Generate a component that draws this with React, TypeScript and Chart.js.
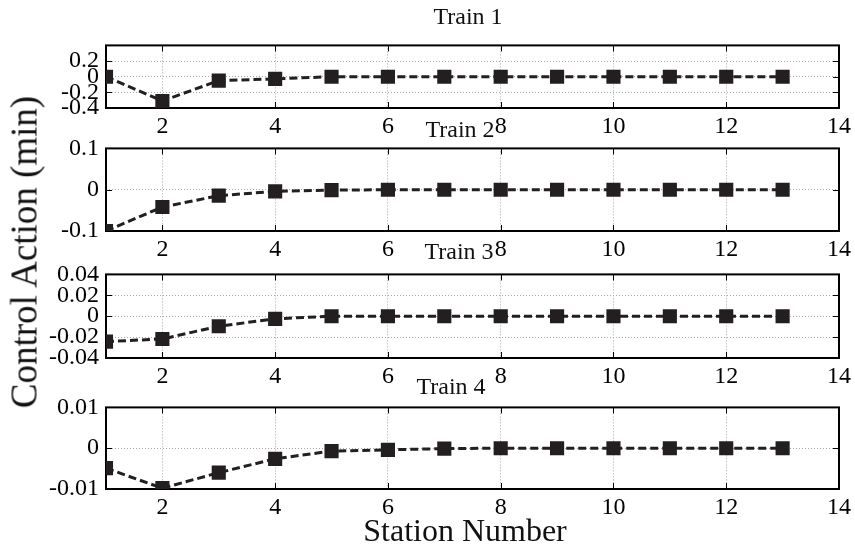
import React, { useEffect, useRef } from "react";
import { Chart, registerables } from "chart.js";

Chart.register(...registerables);

// ---------- data ----------
const stations = [1, 2, 3, 4, 5, 6, 7, 8, 9, 10, 11, 12, 13];
const train1 = [0, -0.31, -0.05, -0.028, 0, 0, 0, 0, 0, 0, 0, 0, 0];
const train2 = [-0.1, -0.042, -0.0145, -0.004, -0.0012, 0, 0, 0, 0, 0, 0, 0, 0];
const train3 = [-0.0243, -0.0218, -0.0096, -0.0025, 0, 0, 0, 0, 0, 0, 0, 0, 0];
const train4 = [-0.0049, -0.0098, -0.006, -0.0026, -0.0007, -0.0004, -0.0001, 0, 0, 0, 0, 0, 0];
const xTicks = [2, 4, 6, 8, 10, 12, 14];
const yTicks1 = [-0.4, -0.2, 0, 0.2, 0.4];
const yLabels1 = ["-0.4", "-0.2", "0", "0.2", ""];
const yTicks2 = [-0.1, 0, 0.1];
const yLabels2 = ["-0.1", "0", "0.1"];
const yTicks3 = [-0.04, -0.02, 0, 0.02, 0.04];
const yLabels3 = ["-0.04", "-0.02", "0", "0.02", "0.04"];
const yTicks4 = [-0.01, 0, 0.01];
const yLabels4 = ["-0.01", "0", "0.01"];
const titles = ["Train 1", "Train 2", "Train 3", "Train 4"];
const xAxisTitle = "Station Number";
const yAxisTitle = "Control Action (min)";

const FONT = "'Liberation Serif', 'Times New Roman', serif";
const INK = "#231f20";
const GRID = "#a8a8a8";
const W = 855;
const PLOT_LEFT = 106;
const PLOT_RIGHT = 839;

const boxPlugin = {
  id: "matlabBox",
  beforeDatasetsDraw(chart: any) {
    const { ctx, chartArea, scales } = chart;
    const { left, right, top, bottom } = chartArea;
    const x = scales.x;
    const y = scales.y;
    ctx.save();
    ctx.setLineDash([]);
    ctx.strokeStyle = "#000";
    ctx.lineWidth = 1;
    ctx.beginPath();
    x.ticks.forEach((t: any) => {
      const px = Math.round(x.getPixelForValue(t.value)) + 0.5;
      ctx.moveTo(px, top);
      ctx.lineTo(px, top + 6);
      ctx.moveTo(px, bottom);
      ctx.lineTo(px, bottom - 6);
    });
    y.ticks.forEach((t: any) => {
      const py = Math.round(y.getPixelForValue(t.value)) + 0.5;
      ctx.moveTo(left, py);
      ctx.lineTo(left + 6, py);
      ctx.moveTo(right, py);
      ctx.lineTo(right - 6, py);
    });
    ctx.stroke();
    ctx.lineWidth = 2;
    ctx.strokeRect(left, top, right - left, bottom - top);
    ctx.restore();
  },
};

type PanelProps = {
  values: number[];
  yTicks: number[];
  yLabels: string[];
  top: number;
  bottom: number;
};

function Panel({ values, yTicks, yLabels, top, bottom }: PanelProps) {
  const ref = useRef<HTMLCanvasElement>(null);
  const padTop = 20;
  const axisH = 40;
  const H = bottom - top + padTop + axisH;

  useEffect(() => {
    const chart = new Chart(ref.current as HTMLCanvasElement, {
      type: "line",
      data: {
        datasets: [
          {
            data: stations.map((s, i) => ({ x: s, y: values[i] })),
            borderColor: INK,
            backgroundColor: INK,
            borderWidth: 3,
            borderDash: [8, 4],
            pointStyle: "rect",
            pointRadius: 10,
            pointBorderWidth: 0,
            pointBackgroundColor: INK,
            tension: 0,
          } as any,
        ],
      },
      options: {
        animation: false,
        responsive: false,
        devicePixelRatio: 1,
        layout: { padding: { left: 0, right: W - PLOT_RIGHT, top: padTop, bottom: 0 } },
        plugins: { legend: { display: false }, tooltip: { enabled: false } },
        scales: {
          x: {
            type: "linear",
            min: 1,
            max: 14,
            afterBuildTicks: (ax: any) => {
              ax.ticks = xTicks.map((v) => ({ value: v }));
            },
            afterFit: (ax: any) => {
              ax.height = axisH;
            },
            grid: { color: GRID, lineWidth: 1, drawTicks: false, tickLength: 0 },
            border: { display: false, dash: [1, 2] },
            ticks: {
              color: "#000",
              font: { family: FONT, size: 24 },
              padding: 4,
              maxRotation: 0,
              autoSkip: false,
              callback: (v: any) => String(v),
            },
          },
          y: {
            type: "linear",
            min: yTicks[0],
            max: yTicks[yTicks.length - 1],
            afterBuildTicks: (ax: any) => {
              ax.ticks = yTicks.map((v) => ({ value: v }));
            },
            afterFit: (ax: any) => {
              ax.width = PLOT_LEFT;
            },
            grid: { color: GRID, lineWidth: 1, drawTicks: false, tickLength: 0 },
            border: { display: false, dash: [1, 2] },
            ticks: {
              color: "#000",
              font: { family: FONT, size: 24 },
              padding: 7,
              autoSkip: false,
              callback: (_v: any, i: number) => yLabels[i],
            },
          },
        },
      } as any,
      plugins: [boxPlugin],
    });
    return () => chart.destroy();
  }, []);

  return (
    <canvas
      ref={ref}
      width={W}
      height={H}
      style={{ position: "absolute", left: 0, top: top - padTop, width: W, height: H }}
    />
  );
}

const textStyle: React.CSSProperties = {
  position: "absolute",
  fontFamily: FONT,
  color: "#111",
  whiteSpace: "nowrap",
  lineHeight: 1,
  transform: "translate(-50%, -50%)",
};

export default function App() {
  return (
    <div
      style={{
        position: "absolute",
        left: 0,
        top: 0,
        width: W,
        height: 547,
        background: "#fff",
        overflow: "hidden",
      }}
    >
      <Panel values={train1} yTicks={yTicks1} yLabels={yLabels1} top={44} bottom={108} />
      <Panel values={train2} yTicks={yTicks2} yLabels={yLabels2} top={147} bottom={231} />
      <Panel values={train3} yTicks={yTicks3} yLabels={yLabels3} top={273} bottom={358} />
      <Panel values={train4} yTicks={yTicks4} yLabels={yLabels4} top={406} bottom={489} />

      <div style={{ ...textStyle, left: 468, top: 16, fontSize: 24 }}>{titles[0]}</div>
      <div style={{ ...textStyle, left: 460, top: 129, fontSize: 24 }}>{titles[1]}</div>
      <div style={{ ...textStyle, left: 459, top: 251, fontSize: 24 }}>{titles[2]}</div>
      <div style={{ ...textStyle, left: 451, top: 386, fontSize: 24 }}>{titles[3]}</div>

      <div style={{ ...textStyle, left: 465, top: 530, fontSize: 32 }}>{xAxisTitle}</div>
      <div
        style={{
          ...textStyle,
          left: 24,
          top: 252,
          fontSize: 37,
          transform: "translate(-50%, -50%) rotate(-90deg)",
        }}
      >
        {yAxisTitle}
      </div>
    </div>
  );
}
